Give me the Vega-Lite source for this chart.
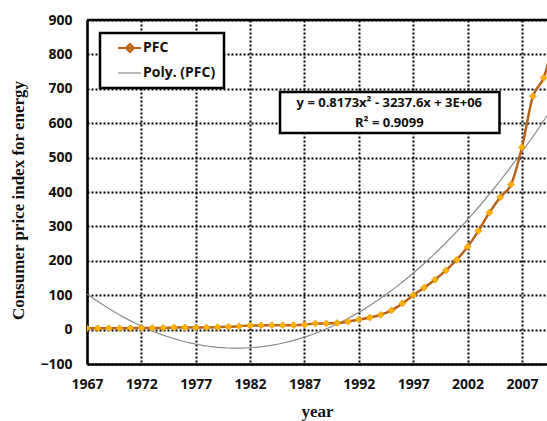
{
  "$schema": "https://vega.github.io/schema/vega-lite/v6.json",
  "width": 460,
  "height": 344,
  "autosize": "none",
  "padding": {"left": 87, "top": 20, "right": 0, "bottom": 57},
  "background": "white",
  "config": {
    "view": {"stroke": null},
    "axis": {
      "labelFont": "Open Sans",
      "labelFontWeight": "bold",
      "labelFontSize": 14,
      "labelColor": "#111111",
      "labelOverlap": false,
      "titleFont": "Liberation Serif",
      "titleFontWeight": "bold",
      "titleFontSize": 17,
      "titleColor": "#111111",
      "tickSize": 0,
      "domainColor": "#000000",
      "domainWidth": 2.5,
      "grid": true,
      "gridColor": "#000000",
      "gridWidth": 2
    },
    "axisX": {"labelPadding": 13, "titlePadding": 12, "labelFlush": false},
    "axisY": {"labelPadding": 15}
  },
  "data": {
    "values": [
      {"year": 1967, "pfc": 4}, {"year": 1968, "pfc": 4}, {"year": 1969, "pfc": 4},
      {"year": 1970, "pfc": 4}, {"year": 1971, "pfc": 4}, {"year": 1972, "pfc": 5},
      {"year": 1973, "pfc": 5}, {"year": 1974, "pfc": 5}, {"year": 1975, "pfc": 6},
      {"year": 1976, "pfc": 6}, {"year": 1977, "pfc": 6}, {"year": 1978, "pfc": 6},
      {"year": 1979, "pfc": 7}, {"year": 1980, "pfc": 8}, {"year": 1981, "pfc": 10},
      {"year": 1982, "pfc": 12}, {"year": 1983, "pfc": 12}, {"year": 1984, "pfc": 13},
      {"year": 1985, "pfc": 13}, {"year": 1986, "pfc": 13}, {"year": 1987, "pfc": 14},
      {"year": 1988, "pfc": 18}, {"year": 1989, "pfc": 18}, {"year": 1990, "pfc": 19},
      {"year": 1991, "pfc": 23}, {"year": 1992, "pfc": 29}, {"year": 1993, "pfc": 35},
      {"year": 1994, "pfc": 43}, {"year": 1995, "pfc": 56}, {"year": 1996, "pfc": 76},
      {"year": 1997, "pfc": 100}, {"year": 1998, "pfc": 122}, {"year": 1999, "pfc": 145},
      {"year": 2000, "pfc": 172}, {"year": 2001, "pfc": 203}, {"year": 2002, "pfc": 241},
      {"year": 2003, "pfc": 287}, {"year": 2004, "pfc": 340}, {"year": 2005, "pfc": 385},
      {"year": 2006, "pfc": 422}, {"year": 2007, "pfc": 530}, {"year": 2008, "pfc": 678},
      {"year": 2009, "pfc": 732}, {"year": 2010, "pfc": 850}
    ]
  },
  "layer": [
    {
      "transform": [
        {"regression": "pfc", "on": "year", "method": "poly", "order": 2, "extent": [1967, 2010]}
      ],
      "mark": {"type": "line", "strokeWidth": 1.2, "clip": true},
      "encoding": {
        "x": {
          "field": "year",
          "type": "quantitative",
          "scale": {"domain": [1967, 2009.3], "nice": false, "zero": false},
          "axis": {"values": [1967, 1972, 1977, 1982, 1987, 1992, 1997, 2002, 2007], "format": "d", "title": "year", "grid": true, "gridDash": [2, 2]}
        },
        "y": {
          "field": "pfc",
          "type": "quantitative",
          "scale": {"domain": [-100, 900], "nice": false, "zero": false},
          "axis": {
            "values": [-100, 0, 100, 200, 300, 400, 500, 600, 700, 800, 900],
            "title": "Consumer price index for energy", "grid": true, "gridDash": [2, 2],
            "titleX": -69, "titleY": 180, "titleAngle": -90, "titleAlign": "center", "titleBaseline": "middle"
          }
        },
        "color": {
          "datum": "Poly. (PFC)",
          "scale": {"domain": ["PFC", "Poly. (PFC)"], "range": ["#b8621a", "#8c8c8c"]},
          "legend": {
            "orient": "none",
            "legendX": 13,
            "legendY": 13,
            "title": null,
            "strokeColor": "#000000",
            "fillColor": "#ffffff",
            "padding": 8,
            "symbolType": "stroke",
            "symbolSize": 196,
            "rowPadding": 9,
            "labelOffset": 21,
            "labelFont": "Open Sans",
            "labelFontWeight": "bold",
            "labelFontSize": 14,
            "labelColor": "#111111",
            "encode": {
              "legend": {"update": {"strokeWidth": {"value": 2.5}}},
              "symbols": {
                "update": {
                  "shape": {"signal": "datum.value === 'PFC' ? 'M0.43,0L3.71,0M2.14,-0.57L2.71,0L2.14,0.57L1.57,0Z' : 'M0.43,0L3.71,0'"},
                  "fill": {"signal": "datum.value === 'PFC' ? '#ffb300' : 'transparent'"},
                  "strokeWidth": {"signal": "datum.value === 'PFC' ? 2.2 : 1.2"},
                  "opacity": {"value": 1}
                }
              }
            }
          }
        }
      }
    },
    {
      "mark": {"type": "line", "strokeWidth": 2.5, "interpolate": "monotone", "clip": true},
      "encoding": {
        "x": {
          "field": "year", "type": "quantitative",
          "axis": {"values": [1967, 1972, 1977, 1982, 1987, 1992, 1997, 2002, 2007], "format": "d", "title": "year", "grid": true, "gridDash": [2, 2]}
        },
        "y": {
          "field": "pfc", "type": "quantitative",
          "axis": {
            "values": [-100, 0, 100, 200, 300, 400, 500, 600, 700, 800, 900],
            "title": "Consumer price index for energy", "grid": true, "gridDash": [2, 2],
            "titleX": -69, "titleY": 180, "titleAngle": -90, "titleAlign": "center", "titleBaseline": "middle"
          }
        },
        "color": {"datum": "PFC"}
      }
    },
    {
      "mark": {"type": "point", "shape": "diamond", "filled": true, "size": 49, "color": "#ffb300", "stroke": "#e08a00", "strokeWidth": 0.6, "opacity": 1, "clip": true},
      "encoding": {
        "x": {
          "field": "year", "type": "quantitative",
          "axis": {"values": [1967, 1972, 1977, 1982, 1987, 1992, 1997, 2002, 2007], "format": "d", "title": "year", "grid": true, "gridDash": [2, 2]}
        },
        "y": {
          "field": "pfc", "type": "quantitative",
          "axis": {
            "values": [-100, 0, 100, 200, 300, 400, 500, 600, 700, 800, 900],
            "title": "Consumer price index for energy", "grid": true, "gridDash": [2, 2],
            "titleX": -69, "titleY": 180, "titleAngle": -90, "titleAlign": "center", "titleBaseline": "middle"
          }
        }
      }
    },
    {
      "data": {"values": [{}]},
      "mark": {"type": "rule", "color": "#000000", "strokeWidth": 2.5},
      "encoding": {
        "y": {
          "datum": 900, "type": "quantitative",
          "axis": {
            "values": [-100, 0, 100, 200, 300, 400, 500, 600, 700, 800, 900],
            "title": "Consumer price index for energy", "grid": true, "gridDash": [2, 2],
            "titleX": -69, "titleY": 180, "titleAngle": -90, "titleAlign": "center", "titleBaseline": "middle"
          }
        }
      }
    },
    {
      "data": {"values": [{}]},
      "mark": {"type": "rect", "fill": "#ffffff", "stroke": "#000000", "strokeWidth": 2.5},
      "encoding": {
        "x": {
          "datum": 1984.75, "type": "quantitative",
          "axis": {"values": [1967, 1972, 1977, 1982, 1987, 1992, 1997, 2002, 2007], "format": "d", "title": "year", "grid": true, "gridDash": [2, 2]}
        },
        "x2": {"datum": 2004.93},
        "y": {
          "datum": 690.7, "type": "quantitative",
          "axis": {
            "values": [-100, 0, 100, 200, 300, 400, 500, 600, 700, 800, 900],
            "title": "Consumer price index for energy", "grid": true, "gridDash": [2, 2],
            "titleX": -69, "titleY": 180, "titleAngle": -90, "titleAlign": "center", "titleBaseline": "middle"
          }
        },
        "y2": {"datum": 571.5}
      }
    },
    {
      "data": {"values": [{}]},
      "mark": {
        "type": "text",
        "font": "Open Sans",
        "fontWeight": "bold",
        "fontSize": 13,
        "color": "#111111",
        "align": "center",
        "baseline": "middle",
        "lineHeight": 19.5
      },
      "encoding": {
        "x": {
          "datum": 1994.8, "type": "quantitative",
          "axis": {"values": [1967, 1972, 1977, 1982, 1987, 1992, 1997, 2002, 2007], "format": "d", "title": "year", "grid": true, "gridDash": [2, 2]}
        },
        "y": {
          "datum": 657.8, "type": "quantitative",
          "axis": {
            "values": [-100, 0, 100, 200, 300, 400, 500, 600, 700, 800, 900],
            "title": "Consumer price index for energy", "grid": true, "gridDash": [2, 2],
            "titleX": -69, "titleY": 180, "titleAngle": -90, "titleAlign": "center", "titleBaseline": "middle"
          }
        },
        "text": {"value": ["y = 0.8173x² - 3237.6x + 3E+06", "R² = 0.9099"]}
      }
    }
  ]
}
